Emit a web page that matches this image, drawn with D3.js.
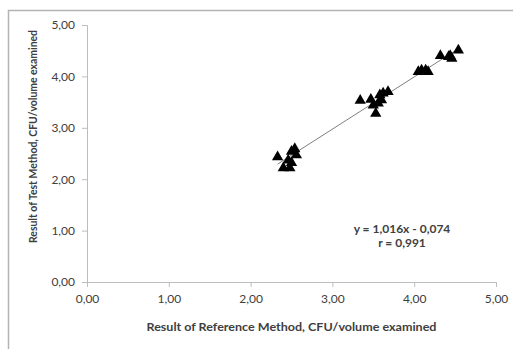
<!DOCTYPE html>
<html>
<head>
<meta charset="utf-8">
<script src="https://cdn.jsdelivr.net/npm/d3@7"></script>
<style>
  body { margin: 0; background: #fff; }
  text { font-family: Lato, "Open Sans", sans-serif; fill: #404040; }
</style>
</head>
<body>
<div id="chart"></div>
<script>
// Reference method results (x) and test method results (y)
const referenceValues = [2.33, 2.54, 2.50, 2.56, 2.46, 2.50, 2.40, 2.48,
                         3.34, 3.47, 3.50, 3.53, 3.58, 3.62, 3.68, 3.56, 3.60,
                         4.05, 4.09, 4.17, 4.14, 4.32, 4.42, 4.46, 4.44, 4.54];
const testValues      = [2.43, 2.59, 2.54, 2.47, 2.37, 2.32, 2.22, 2.22,
                         3.53, 3.55, 3.44, 3.28, 3.64, 3.67, 3.70, 3.48, 3.54,
                         4.09, 4.12, 4.09, 4.12, 4.40, 4.38, 4.35, 4.40, 4.51];
const tickValues = [0, 1, 2, 3, 4, 5];
const trendCoefs = [1.016, -0.074];   // slope, intercept
const equationLines = ["y = 1,016x - 0,074", "r = 0,991"];

const width = 513, height = 349;
const margin = { left: 87, right: 17, top: 25, bottom: 67 };

const svg = d3.select('#chart').append('svg')
    .attr('width', width)
    .attr('height', height);

// outer chart frame (cropped at right and bottom)
svg.append('rect')
    .attr('x', 8.5).attr('y', 10.5)
    .attr('width', width + 10).attr('height', height + 10)
    .attr('fill', 'none')
    .attr('stroke', '#b3b3b3')
    .attr('stroke-width', 1.5);

const x = d3.scaleLinear().domain([0, 5]).range([margin.left, width - margin.right]);
const y = d3.scaleLinear().domain([0, 5]).range([height - margin.bottom, margin.top]);

const fmt = d => d3.format('.2f')(d).replace('.', ',');

// x axis
const xAxis = svg.append('g')
    .attr('transform', `translate(0,${y(0)})`)
    .call(d3.axisBottom(x).tickValues(tickValues).tickFormat(fmt).tickSize(5).tickPadding(7));

// y axis
const yAxis = svg.append('g')
    .attr('transform', `translate(${x(0)},0)`)
    .call(d3.axisLeft(y).tickValues(tickValues).tickFormat(fmt).tickSize(5).tickPadding(7));

[xAxis, yAxis].forEach(a => {
    a.select('.domain').attr('stroke', '#bdbdbd');
    a.selectAll('.tick line').attr('stroke', '#bdbdbd');
    a.selectAll('.tick text')
        .style('font-family', 'Lato, sans-serif')
        .style('font-size', '12px')
        .attr('fill', '#404040');
});

// trendline across the data range
const xExt = d3.extent(referenceValues);
svg.append('line')
    .attr('x1', x(xExt[0])).attr('y1', y(trendCoefs[0] * xExt[0] + trendCoefs[1]))
    .attr('x2', x(xExt[1])).attr('y2', y(trendCoefs[0] * xExt[1] + trendCoefs[1]))
    .attr('stroke', '#808080')
    .attr('stroke-width', 1);

// triangle markers
const tri = d3.symbol().type(d3.symbolTriangle).size(55);
svg.selectAll('.pt')
    .data(referenceValues.map((v, i) => ({ x: v, y: testValues[i] })))
    .enter().append('path')
    .attr('class', 'pt')
    .attr('d', tri)
    .attr('transform', d => `translate(${x(d.x)},${y(d.y)})`)
    .attr('fill', '#000');

// regression equation
svg.selectAll('.eq')
    .data(equationLines)
    .enter().append('text')
    .attr('class', 'eq')
    .attr('x', 402)
    .attr('y', (d, i) => 233 + i * 14)
    .attr('text-anchor', 'middle')
    .style('font-size', '12px')
    .style('font-weight', 'bold')
    .attr('fill', '#000')
    .text(d => d);

// axis titles
svg.append('text')
    .attr('x', (x(0) + x(5)) / 2)
    .attr('y', 331)
    .attr('text-anchor', 'middle')
    .style('font-size', '12px')
    .style('font-weight', 'bold')
    .attr('fill', '#000')
    .attr('textLength', 290)
    .attr('lengthAdjust', 'spacingAndGlyphs')
    .text('Result of Reference Method, CFU/volume examined');

svg.append('text')
    .attr('transform', `translate(37,${(y(0) + y(5)) / 2 - 17}) rotate(-90)`)
    .attr('text-anchor', 'middle')
    .style('font-size', '11.5px')
    .style('font-weight', 'bold')
    .attr('fill', '#000')
    .attr('textLength', 213)
    .attr('lengthAdjust', 'spacingAndGlyphs')
    .text('Result of Test Method, CFU/volume examined');
</script>
</body>
</html>
